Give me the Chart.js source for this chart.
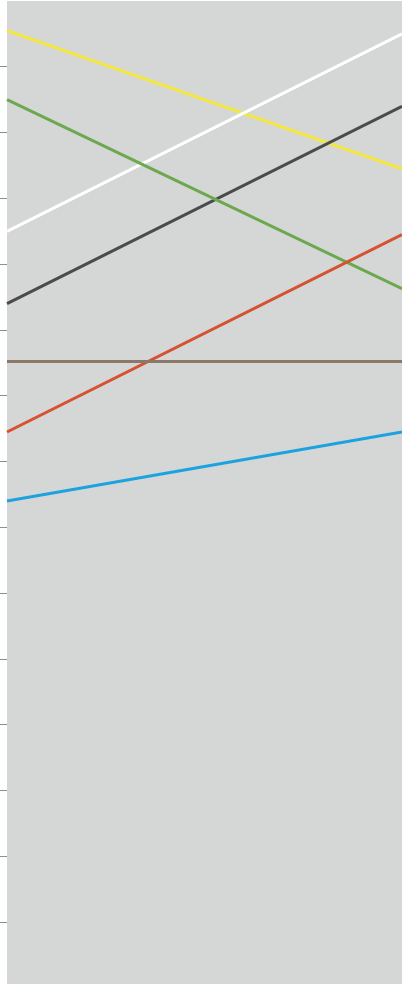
<!DOCTYPE html>
<html>
<head>
<meta charset="utf-8">
<script src="https://cdn.jsdelivr.net/npm/chart.js@4/dist/chart.umd.min.js"></script>
<style>
  html, body { margin: 0; padding: 0; background: #fff; overflow: hidden; }
  #wrap { width: 402px; height: 988px; }
</style>
</head>
<body>
<div id="wrap"><canvas id="myChart"></canvas></div>
<script>
// two points per line: left edge and right edge
const labels = ["start", "end"];

const yellowValues = [14.55, 12.45];
const whiteValues = [11.5, 14.5];
const greenValues = [13.5, 10.63];
const darkValues = [10.4, 13.4];
const redValues = [8.45, 11.45];
const brownValues = [9.52, 9.52];
const blueValues = [7.4, 8.45];

const yMin = 0;
const yMax = 15;

// grey plot background
const plotBackground = {
    id: "plotBackground",
    beforeDraw: (chart) => {
        const { ctx, chartArea } = chart;
        ctx.save();
        ctx.fillStyle = "#d4d7d6";
        ctx.fillRect(chartArea.left, chartArea.top, chartArea.right - chartArea.left, chartArea.bottom - chartArea.top);
        ctx.restore();
    },
};

const makeLine = (data, color) => ({
    data: data,
    borderColor: color,
    borderWidth: 3,
    pointRadius: 0,
    tension: 0,
    fill: false,
});

const datasets = [
    makeLine(brownValues, "#8b7866"),
    makeLine(blueValues, "#1ca3df"),
    makeLine(redValues, "#d5512f"),
    makeLine(greenValues, "#6ca84e"),
    makeLine(darkValues, "#4b4b4b"),
    makeLine(whiteValues, "#ffffff"),
    makeLine(yellowValues, "#f5e83c"),
];

const config = {
    type: "line",
    data: { labels, datasets },
    options: {
        responsive: true,
        maintainAspectRatio: false,
        animation: false,
        layout: { padding: { top: 1, right: 0, bottom: 0, left: 0 } },
        plugins: { legend: { display: false }, tooltip: { enabled: false } },
        scales: {
            x: { display: false, offset: false },
            y: {
                min: yMin,
                max: yMax,
                ticks: { display: false, stepSize: 1 },
                border: { display: false },
                grid: {
                    drawOnChartArea: false,
                    tickLength: 8,
                    color: (c) => (c.tick && (c.tick.value === yMax || c.tick.value === yMin) ? "rgba(0,0,0,0)" : "#8e8e8e"),
                },
                afterFit: (scale) => { scale.width = 7; },
            },
        },
    },
    plugins: [plotBackground],
};

new Chart(document.getElementById("myChart"), config);
</script>
</body>
</html>
